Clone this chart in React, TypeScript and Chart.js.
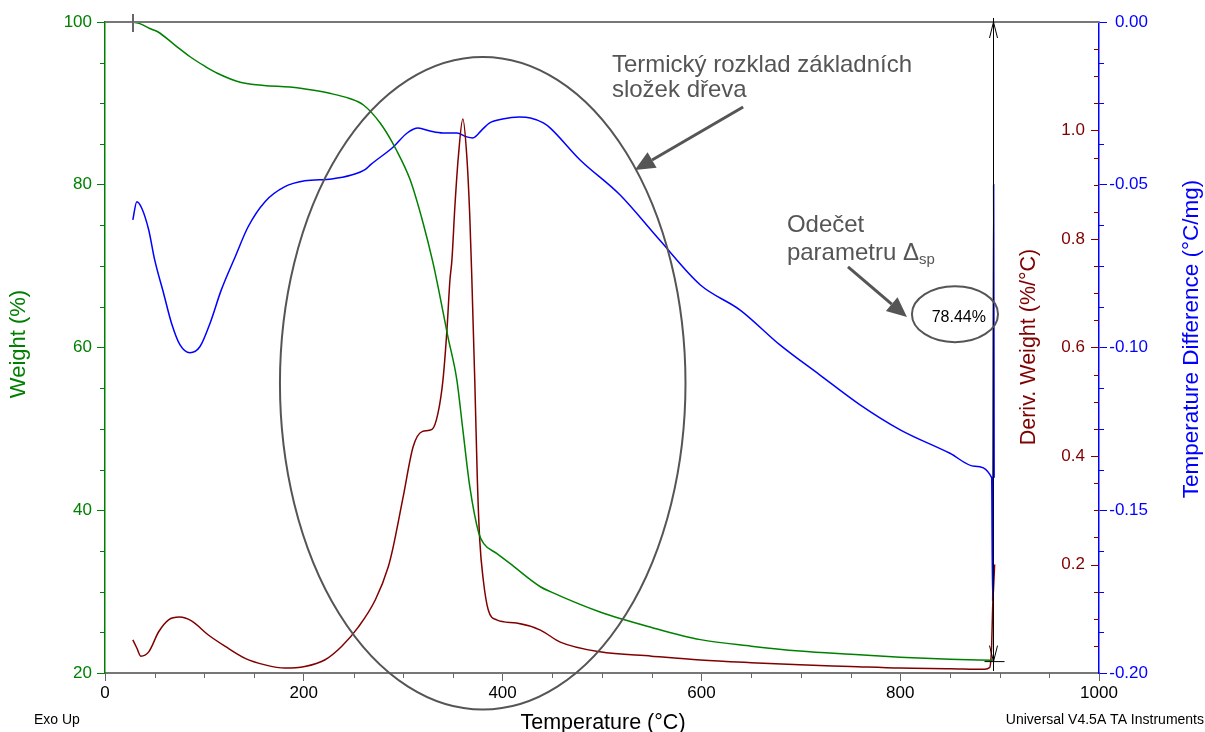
import React, { useEffect, useRef } from 'react';
import { Chart, registerables } from 'chart.js';

Chart.register(...registerables);

// ---- Data (temperature in °C) ----
const weightTemp = [28, 35, 45, 53, 70, 86, 100, 113, 136, 160, 186, 210, 226, 246, 260, 277, 293, 307, 320, 330, 335, 345, 354, 360, 367, 376, 381, 394, 407, 438, 448, 498, 550, 599, 650, 699, 750, 800, 850, 893];
const weightPct = [100, 99.8, 99.2, 98.8, 97.2, 95.7, 94.6, 93.7, 92.6, 92.2, 92.0, 91.6, 91.24, 90.6, 89.8, 87.55, 84.3, 80.6, 75.3, 70.4, 67.5, 61.3, 56.0, 49.9, 42.9, 37.2, 35.9, 34.7, 33.5, 30.6, 30.0, 27.5, 25.6, 24.1, 23.3, 22.7, 22.3, 21.95, 21.7, 21.56];

const derivTemp = [28, 32, 36, 44, 54, 64, 75, 87, 104, 121, 141, 161, 181, 201, 221, 238, 255, 272, 285, 290, 300, 310, 319, 329, 335, 340, 344, 347, 349, 352, 355.5, 360, 364, 367, 369, 372, 374.6, 377, 380.6, 385.6, 394, 414, 438, 458, 498, 550, 599, 650, 699, 750, 800, 850, 885, 890, 892, 893, 894, 895];
const derivWeight = [0.061, 0.046, 0.031, 0.039, 0.076, 0.098, 0.103, 0.096, 0.070, 0.049, 0.027, 0.015, 0.009, 0.012, 0.024, 0.049, 0.085, 0.135, 0.196, 0.233, 0.325, 0.417, 0.445, 0.449, 0.479, 0.540, 0.632, 0.724, 0.761, 0.860, 0.952, 1.021, 0.952, 0.841, 0.730, 0.540, 0.356, 0.245, 0.171, 0.116, 0.098, 0.092, 0.079, 0.057, 0.039, 0.031, 0.024, 0.019, 0.015, 0.012, 0.009, 0.008, 0.007, 0.010, 0.050, 0.120, 0.160, 0.200];

const diffTemp = [28, 32, 37, 44, 50, 59, 67, 75.5, 85.5, 95.6, 105.6, 117, 131, 144, 161, 181, 201, 228, 248, 262, 267, 290, 304, 315, 327, 340, 354, 364, 370, 379, 387, 400, 417, 428, 441, 448, 478, 518, 558, 599, 639, 679, 719, 760, 800, 850, 875, 892, 893, 894, 894.5];
const tempDiff = [-0.0608, -0.0552, -0.0572, -0.0639, -0.0731, -0.0834, -0.0926, -0.0992, -0.1016, -0.0997, -0.0926, -0.0823, -0.0721, -0.0629, -0.0552, -0.0506, -0.0488, -0.0482, -0.047, -0.0453, -0.0439, -0.0384, -0.0341, -0.0326, -0.0335, -0.0341, -0.0341, -0.0353, -0.0356, -0.0332, -0.031, -0.0298, -0.0292, -0.0295, -0.031, -0.0326, -0.0424, -0.0531, -0.067, -0.0808, -0.0885, -0.0992, -0.1084, -0.1177, -0.1253, -0.1325, -0.1365, -0.14, -0.178, -0.05, -0.14];

// Axis ticks
const xMajorTicks = [0, 200, 400, 600, 800, 1000];
const weightTicks = [20, 40, 60, 80, 100];
const derivTicks = [0.2, 0.4, 0.6, 0.8, 1.0];
const diffTicks = [-0.2, -0.15, -0.1, -0.05, 0];

// Annotation anchors in data units (temperature, weight %)
const stepTemp = 893;
const stepLabel = '78.44%';
const noteMain = ['Termický rozklad základních', 'složek dřeva'];
const noteStep = ['Odečet', 'parametru Δ', 'sp'];

const FONT = '"Liberation Sans", Arial, sans-serif';
const GREEN = '#008000';
const RED = '#800000';
const BLUE = '#0000ff';
const GRAY = '#555555';
const TICK_SIZE = 17;

function arrow(ctx: CanvasRenderingContext2D, x1: number, y1: number, x2: number, y2: number) {
  const ang = Math.atan2(y2 - y1, x2 - x1);
  const hl = 20, hw = 9;
  const bx = x2 - hl * Math.cos(ang), by = y2 - hl * Math.sin(ang);
  ctx.strokeStyle = GRAY;
  ctx.fillStyle = GRAY;
  ctx.lineWidth = 3;
  ctx.beginPath();
  ctx.moveTo(x1, y1);
  ctx.lineTo(bx, by);
  ctx.stroke();
  ctx.beginPath();
  ctx.moveTo(x2, y2);
  ctx.lineTo(bx + hw * Math.sin(ang), by - hw * Math.cos(ang));
  ctx.lineTo(bx - hw * Math.sin(ang), by + hw * Math.cos(ang));
  ctx.closePath();
  ctx.fill();
}

const decorPlugin = {
  id: 'decor',
  afterDraw(chart: any) {
    const { ctx, chartArea: ca, scales } = chart;
    const sx = scales.x, sw = scales.y, sd = scales.yD, st = scales.yT;
    const X = (v: number) => sx.getPixelForValue(v);
    const W = (v: number) => sw.getPixelForValue(v);
    ctx.save();

    // top frame line
    ctx.strokeStyle = '#777777';
    ctx.lineWidth = 2;
    ctx.beginPath();
    ctx.moveTo(ca.left, ca.top);
    ctx.lineTo(ca.right, ca.top);
    ctx.stroke();

    // minor ticks
    ctx.lineWidth = 1;
    ctx.strokeStyle = '#666666';
    for (let v = 50; v < 1000; v += 50) {
      if (v % 200 === 0) continue;
      const p = Math.round(X(v)) + 0.5;
      ctx.beginPath(); ctx.moveTo(p, ca.bottom); ctx.lineTo(p, ca.bottom + 5); ctx.stroke();
    }
    ctx.strokeStyle = GREEN;
    for (let v = 25; v < 100; v += 5) {
      if (v % 20 === 0) continue;
      const p = Math.round(W(v)) + 0.5;
      ctx.beginPath(); ctx.moveTo(ca.left - 5, p); ctx.lineTo(ca.left, p); ctx.stroke();
    }
    ctx.strokeStyle = BLUE;
    for (let i = 1; i < 16; i++) {
      if (i % 4 === 0) continue;
      const p = Math.round(st.getPixelForValue(-0.2 + i * 0.0125)) + 0.5;
      ctx.beginPath(); ctx.moveTo(ca.right, p); ctx.lineTo(ca.right + 5, p); ctx.stroke();
    }
    // temperature-difference labels (right-aligned)
    ctx.fillStyle = BLUE;
    ctx.font = `${TICK_SIZE}px ${FONT}`;
    ctx.textAlign = 'right';
    ctx.textBaseline = 'middle';
    diffTicks.forEach(v => {
      ctx.fillText(v.toFixed(2), ca.right + 49, st.getPixelForValue(v));
    });
    // derivative axis (drawn on the left side of the right axis line)
    ctx.strokeStyle = RED;
    for (let i = 1; i < 24; i++) {
      const v = i * 0.05;
      const major = i % 4 === 0;
      const p = Math.round(sd.getPixelForValue(v)) + 0.5;
      ctx.beginPath(); ctx.moveTo(ca.right - (major ? 8 : 5), p); ctx.lineTo(ca.right, p); ctx.stroke();
    }
    ctx.fillStyle = RED;
    ctx.font = `${TICK_SIZE}px ${FONT}`;
    ctx.textAlign = 'right';
    ctx.textBaseline = 'middle';
    derivTicks.forEach(v => {
      ctx.fillText(v.toFixed(1), ca.right - 14, sd.getPixelForValue(v));
    });

    // axis titles
    const vText = (t: string, x: number, y: number, color: string, size: number) => {
      ctx.save();
      ctx.translate(x, y);
      ctx.rotate(-Math.PI / 2);
      ctx.fillStyle = color;
      ctx.font = `${size}px ${FONT}`;
      ctx.textAlign = 'center';
      ctx.textBaseline = 'middle';
      ctx.fillText(t, 0, 0);
      ctx.restore();
    };
    vText('Weight (%)', 19, 344, GREEN, 22);
    vText('Deriv. Weight (%/°C)', ca.right - 70, 347, RED, 21.5);
    vText('Temperature Difference (°C/mg)', ca.right + 93, 339, BLUE, 22.5);

    ctx.fillStyle = '#000000';
    ctx.font = `21.5px ${FONT}`;
    ctx.textAlign = 'center';
    ctx.textBaseline = 'alphabetic';
    ctx.fillText('Temperature (°C)', 603, 729);
    ctx.font = `14px ${FONT}`;
    ctx.textAlign = 'left';
    ctx.fillText('Exo Up', 34, 724);
    ctx.textAlign = 'right';
    ctx.fillText('Universal V4.5A TA Instruments', 1204, 724);

    // step measurement line with arrowheads
    const sxp = Math.round(X(stepTemp)) + 0.5;
    ctx.strokeStyle = '#000000';
    ctx.lineWidth = 1;
    ctx.beginPath();
    ctx.moveTo(sxp, ca.top - 4); ctx.lineTo(sxp, ca.bottom - 2);
    ctx.moveTo(sxp - 4, ca.top + 16); ctx.lineTo(sxp, ca.top); ctx.lineTo(sxp + 4, ca.top + 16);
    const endY = W(21.4);
    ctx.moveTo(sxp - 4, endY - 16); ctx.lineTo(sxp, endY); ctx.lineTo(sxp + 4, endY - 16);
    ctx.moveTo(sxp - 9, endY); ctx.lineTo(sxp + 11, endY);
    ctx.stroke();
    // start marker
    ctx.strokeStyle = '#666666';
    ctx.lineWidth = 2;
    const s0 = Math.round(X(weightTemp[0]));
    ctx.beginPath(); ctx.moveTo(s0, ca.top - 8); ctx.lineTo(s0, ca.top + 10); ctx.stroke();

    // big ellipse
    ctx.strokeStyle = GRAY;
    ctx.lineWidth = 2;
    const ecx = X(380), ecy = W(55.6);
    ctx.beginPath();
    ctx.ellipse(ecx, ecy, X(584) - X(380), W(55.6) - W(95.7), 0, 0, Math.PI * 2);
    ctx.stroke();

    // main note
    ctx.fillStyle = GRAY;
    ctx.font = `24px ${FONT}`;
    ctx.textAlign = 'left';
    ctx.textBaseline = 'alphabetic';
    ctx.fillText(noteMain[0], X(510), W(93.86));
    ctx.fillText(noteMain[1], X(510), W(90.8));
    arrow(ctx, X(642), W(89.55), X(533), W(81.8));

    // step note
    ctx.fillStyle = GRAY;
    ctx.font = `24px ${FONT}`;
    ctx.fillText(noteStep[0], X(686), W(74.2));
    ctx.fillText(noteStep[1], X(686), W(70.75));
    const wDelta = ctx.measureText(noteStep[1]).width;
    ctx.font = `15px ${FONT}`;
    ctx.fillText(noteStep[2], X(686) + wDelta, W(70.75) + 4);
    arrow(ctx, X(747.5), W(69.9), X(806.8), W(63.75));

    // small ellipse with value
    ctx.strokeStyle = GRAY;
    ctx.lineWidth = 2;
    ctx.beginPath();
    ctx.ellipse(X(855.1), W(64.1), X(898.4) - X(855.1), W(64.1) - W(67.54), 0, 0, Math.PI * 2);
    ctx.stroke();
    ctx.fillStyle = '#000000';
    ctx.font = `16px ${FONT}`;
    ctx.textAlign = 'center';
    ctx.fillText(stepLabel, X(859), W(63.1));

    ctx.restore();
  },
};

export default function App() {
  const ref = useRef<HTMLCanvasElement>(null);
  useEffect(() => {
    const canvas = ref.current;
    if (!canvas) return;
    const toPts = (xs: number[], ys: number[]) => xs.map((x, i) => ({ x, y: ys[i] }));
    const chart = new Chart(canvas, {
      type: 'line',
      data: {
        datasets: [
          { label: 'Weight', data: toPts(weightTemp, weightPct), yAxisID: 'y', borderColor: GREEN, borderWidth: 1.5, pointRadius: 0, cubicInterpolationMode: 'monotone' },
          { label: 'Deriv', data: toPts(derivTemp, derivWeight), yAxisID: 'yD', borderColor: RED, borderWidth: 1.5, pointRadius: 0, cubicInterpolationMode: 'monotone' },
          { label: 'Diff', data: toPts(diffTemp, tempDiff), yAxisID: 'yT', borderColor: BLUE, borderWidth: 1.5, pointRadius: 0, cubicInterpolationMode: 'monotone' },
        ],
      } as any,
      options: {
        responsive: false,
        animation: false,
        devicePixelRatio: 1,
        layout: { padding: { top: 22, left: 0, right: 0, bottom: 0 } },
        plugins: { legend: { display: false }, tooltip: { enabled: false } },
        scales: {
          x: {
            type: 'linear', position: 'bottom', min: 0, max: 1000,
            afterBuildTicks: (s: any) => { s.ticks = xMajorTicks.map(v => ({ value: v })); },
            ticks: { color: '#000', font: { family: FONT, size: TICK_SIZE }, padding: 2, maxRotation: 0, autoSkip: false, callback: (v: any) => String(v) },
            grid: { drawOnChartArea: false, tickLength: 8, color: '#666666' },
            border: { color: '#777777', width: 2 },
            afterFit: (s: any) => { s.height = 59; },
          },
          y: {
            position: 'left', min: 20, max: 100,
            afterBuildTicks: (s: any) => { s.ticks = weightTicks.map(v => ({ value: v })); },
            ticks: { color: GREEN, font: { family: FONT, size: TICK_SIZE }, padding: 5, callback: (v: any) => String(v) },
            grid: { drawOnChartArea: false, tickLength: 8, color: GREEN },
            border: { color: GREEN, width: 1.5 },
            afterFit: (s: any) => { s.width = 105; },
          },
          yT: {
            position: 'right', min: -0.2, max: 0,
            afterBuildTicks: (s: any) => { s.ticks = diffTicks.map(v => ({ value: v })); },
            ticks: { display: false },
            grid: { drawOnChartArea: false, tickLength: 8, color: BLUE },
            border: { color: BLUE, width: 1.5 },
            afterFit: (s: any) => { s.width = 106; },
          },
          yD: { display: false, position: 'right', min: 0, max: 1.2 },
        },
      } as any,
      plugins: [decorPlugin],
    });
    return () => chart.destroy();
  }, []);
  return (
    <canvas
      ref={ref}
      width={1205}
      height={732}
      style={{ position: 'absolute', left: 0, top: 0, width: 1205, height: 732, display: 'block' }}
    />
  );
}
